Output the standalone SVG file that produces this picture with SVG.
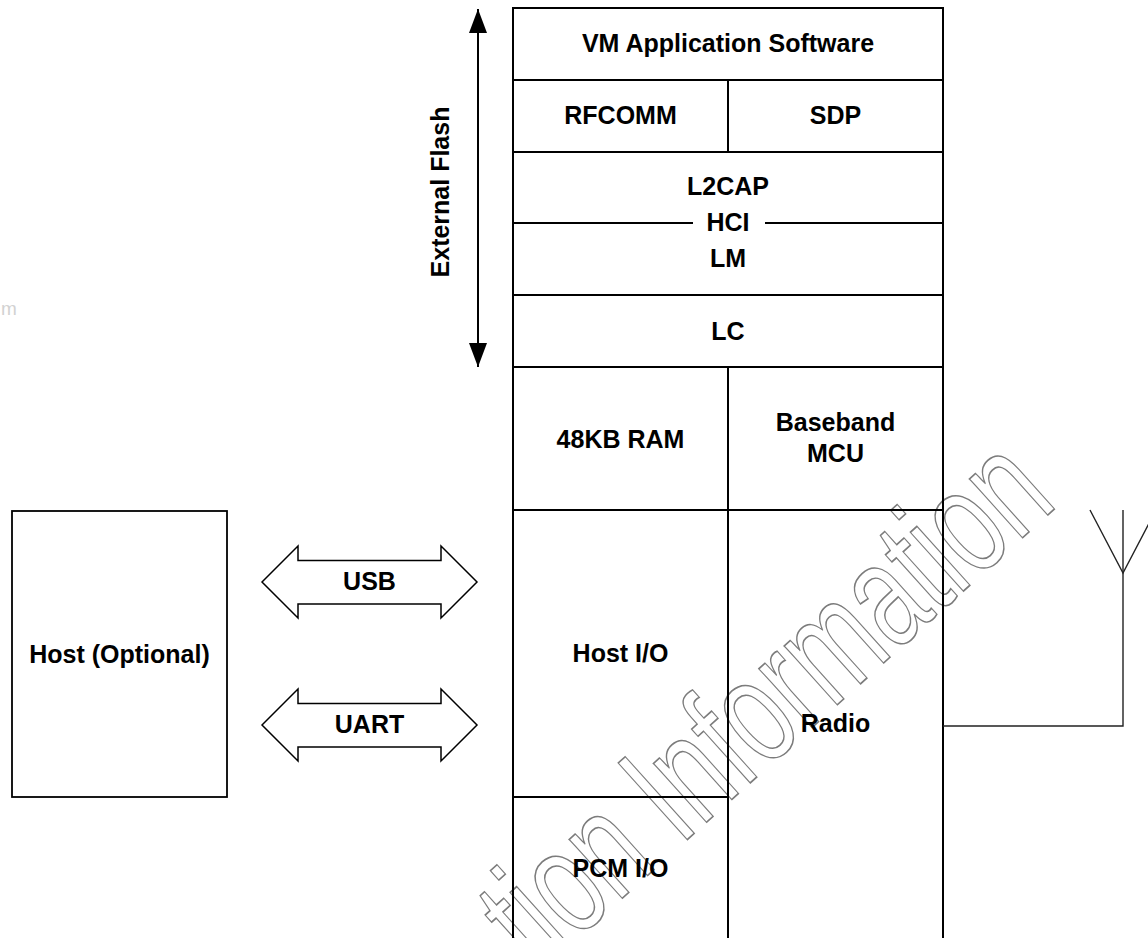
<svg xmlns="http://www.w3.org/2000/svg" width="1148" height="938" viewBox="0 0 1148 938">
<style>
.t{font-family:"Liberation Sans",Arial,sans-serif;font-weight:bold;font-size:25px;fill:#000;text-anchor:middle}
.ln{stroke:#000;stroke-width:2;fill:none}
.ar{stroke:#000;stroke-width:1.5;fill:#fff;stroke-linejoin:miter}
.ant{stroke:#222;stroke-width:1.4;fill:none}
.wm{font-family:"Liberation Sans",Arial,sans-serif;font-size:150px;fill:none;stroke:#7c7c7c;stroke-width:1.4}
</style>
<defs>
<marker id="ah" markerWidth="24" markerHeight="18" refX="24" refY="9" orient="auto" markerUnits="userSpaceOnUse">
<path d="M0,0 L24,9 L0,18 Z" fill="#000"/>
</marker>
</defs>
<rect width="1148" height="938" fill="#fff"/>
<text x="1" y="315" style="font-family:'Liberation Sans',Arial,sans-serif;font-size:19px;fill:#d2d2d2">m</text>

<g id="watermark" transform="translate(537,975) rotate(-42) scale(0.68,1)">
<text class="wm" x="0" y="0" vector-effect="non-scaling-stroke">tion Information</text>
</g>

<g id="stack">
<rect x="513" y="8" width="430" height="940" class="ln"/>
<line x1="513" y1="80" x2="943" y2="80" class="ln"/>
<line x1="728" y1="80" x2="728" y2="152" class="ln"/>
<line x1="513" y1="152" x2="943" y2="152" class="ln"/>
<line x1="513" y1="223" x2="693" y2="223" class="ln"/>
<line x1="765" y1="223" x2="943" y2="223" class="ln"/>
<line x1="513" y1="295" x2="943" y2="295" class="ln"/>
<line x1="513" y1="367" x2="943" y2="367" class="ln"/>
<line x1="728" y1="367" x2="728" y2="940" class="ln"/>
<line x1="513" y1="510" x2="943" y2="510" class="ln"/>
<line x1="513" y1="797" x2="728" y2="797" class="ln"/>
</g>
<g id="vm"><text class="t" x="728" y="52">VM Application Software</text></g>
<g id="rfcomm"><text class="t" x="620.5" y="124">RFCOMM</text></g>
<g id="sdp"><text class="t" x="835.5" y="124">SDP</text></g>
<g id="l2cap"><text class="t" x="728" y="195">L2CAP</text></g>
<g id="hci"><text class="t" x="728" y="231">HCI</text></g>
<g id="lm"><text class="t" x="728" y="267">LM</text></g>
<g id="lc"><text class="t" x="728" y="340">LC</text></g>
<g id="ram"><text class="t" x="620.5" y="448">48KB RAM</text></g>
<g id="baseband"><text class="t" x="835.5" y="431">Baseband</text><text class="t" x="835.5" y="462">MCU</text></g>
<g id="hostio"><text class="t" x="620.5" y="662">Host I/O</text></g>
<g id="radio"><text class="t" x="835.5" y="732">Radio</text></g>
<g id="pcm"><text class="t" x="620.5" y="877">PCM I/O</text></g>

<g id="host">
<rect x="12" y="511" width="215" height="286" class="ln" style="stroke-width:1.8"/>
<text class="t" x="119.5" y="663">Host (Optional)</text>
</g>

<g id="connectors">
<line x1="478" y1="190" x2="478" y2="9" class="ln" marker-end="url(#ah)"/>
<line x1="478" y1="190" x2="478" y2="367" class="ln" marker-end="url(#ah)"/>
<path class="ar" d="M262,582 L298,546 L298,560.5 L441,560.5 L441,546 L477,582 L441,618 L441,604 L298,604 L298,618 Z"/>
<text class="t" x="369.5" y="590">USB</text>
<path class="ar" d="M262,725 L298,689 L298,703.5 L441,703.5 L441,689 L477,725 L441,761 L441,747 L298,747 L298,761 Z"/>
<text class="t" x="369.5" y="733">UART</text>
<polyline class="ant" points="943,726 1123,726 1123,510"/>
<polyline class="ant" points="1090,510 1123,573 1156,510"/>
</g>
<g id="flash"><text class="t" transform="translate(449,192) rotate(-90)" x="0" y="0">External Flash</text></g>
</svg>
